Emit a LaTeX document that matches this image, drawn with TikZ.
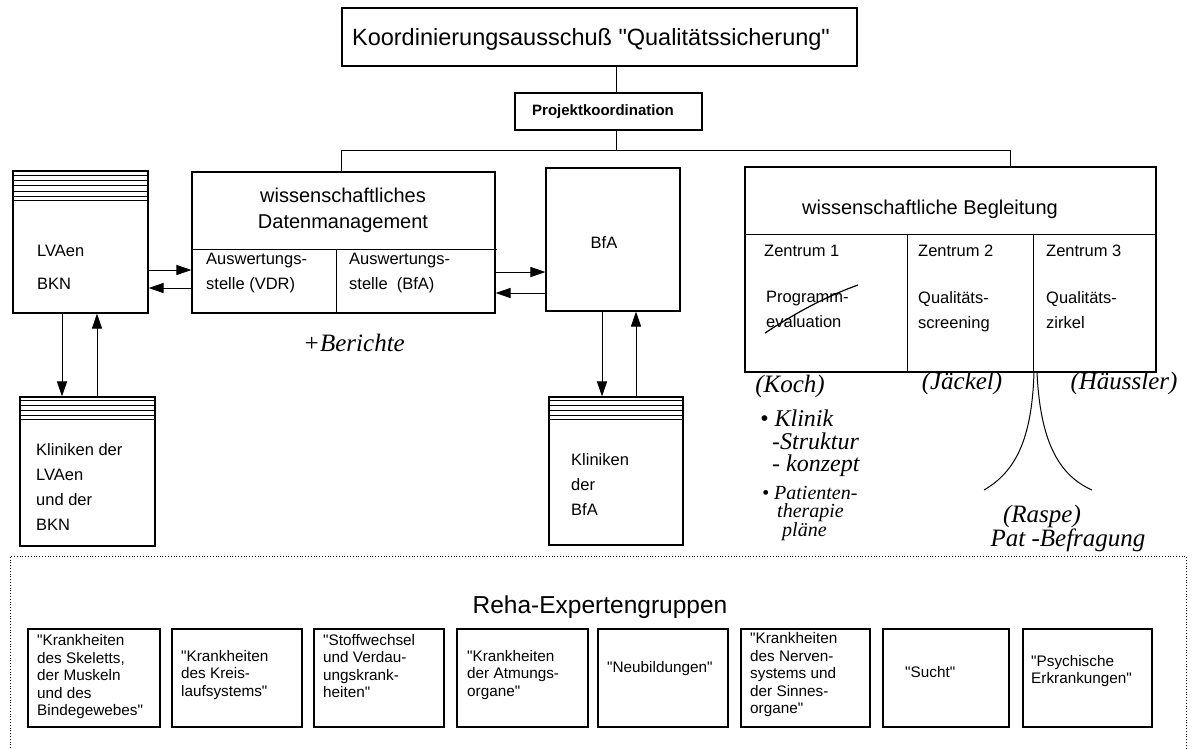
\documentclass[tikz,border=0pt]{standalone}
\usepackage{fontspec}
\setmainfont{Liberation Sans}
\newfontfamily\hand{Liberation Serif}
\usetikzlibrary{arrows.meta,calc,fit}
\newcommand{\qq}{\textquotedbl}
\begin{document}
\begin{tikzpicture}[x=1pt,y=-1pt,
  box/.style={draw, line width=1.1pt, rectangle, inner sep=0pt},
  grp/.style={draw, line width=1.1pt, rectangle, inner sep=0pt},
  txt/.style={inner sep=0pt, align=left, font=\fontsize{16.5}{25}\selectfont},
  gtxt/.style={inner sep=0pt, align=left, anchor=west, font=\fontsize{15.3}{17.5}\selectfont},
  big/.style={inner sep=0pt, font=\fontsize{23.5}{28}\selectfont},
  mid/.style={inner sep=0pt, align=center, font=\fontsize{20}{26}\selectfont},
  hw/.style={inner sep=0pt, align=left, font=\hand\itshape\fontsize{25}{22}\selectfont},
  conn/.style={line width=1pt},
  arr/.style={line width=1pt, -{Triangle[length=15pt,width=10pt]}},
  stripe/.style={line width=0.8pt}
]
\fill[white] (0,0) rectangle (1204,748);
\useasboundingbox (0,0) rectangle (1204,748);

% top
\node[box, fit={(342,8) (857,66)}] (top) {};
\node[big] (toptxt) at (591,39) {Koordinierungsausschuß \qq Qualitätssicherung\qq};
\node[box, fit={(515,93) (702,130)}] (proj) {};
\node[txt, font=\bfseries\fontsize{15}{18}\selectfont] (projtxt) at (603,112) {Projektkoordination};

% data management
\node[box, fit={(192,172) (495,313)}] (dm) {};
\coordinate (dmdivL) at (192,249);
\coordinate (dmdivR) at (497,249);
\draw[conn] (dmdivL) -- (dmdivR);
\draw[conn] (336,249) coordinate (dmv1) -- (dmv1 |- dm.south);
\node[mid] (dmtxt) at (343,210) {wissenschaftliches\\Datenmanagement};
\node[txt, anchor=north west] (aus1) at (206,253) {Auswertungs-\\stelle (VDR)};
\node[txt, anchor=north west] (aus2) at (349,253) {Auswertungs-\\stelle \ (BfA)};

% LVAen
\node[box, fit={(13,171) (148,313)}] (lva) {};
\foreach \d in {5,10,15,21,26,30} \draw[stripe] ([yshift=-\d pt]lva.north west) -- ([yshift=-\d pt]lva.north east);
\node[txt, anchor=west] (lvatxt) at (37,267) {LVAen\\[8pt]BKN};

% BfA
\node[box, fit={(546,168) (680,311)}] (bfa) {};
\node[txt] (bfatxt) at (604,243) {BfA};

% Kliniken LVAen
\node[box, fit={(20,397) (155,546)}] (klva) {};
\foreach \d in {4,9,14,19,23} \draw[stripe] ([yshift=-\d pt]klva.north west) -- ([yshift=-\d pt]klva.north east);
\node[txt, anchor=north west] (klvatxt) at (36,443) {Kliniken der\\LVAen\\und der\\BKN};

% Kliniken BfA
\node[box, fit={(549,397) (683,545)}] (kbfa) {};
\foreach \d in {4,9,14,19,23} \draw[stripe] ([yshift=-\d pt]kbfa.north west) -- ([yshift=-\d pt]kbfa.north east);
\node[txt, anchor=north west] (kbfatxt) at (571,453) {Kliniken\\der\\BfA};

% wissenschaftliche Begleitung
\node[box, fit={(745,167) (1156,372)}] (wb) {};
\draw[conn] (745,234) coordinate (wbdL) -- (wbdL -| wb.east);
\draw[conn] (907,234) coordinate (wbv1) -- (wbv1 |- wb.south);
\draw[conn] (1033,234) coordinate (wbv2) -- (wbv2 |- wb.south);
\node[mid] (wbtxt) at (930,209) {wissenschaftliche Begleitung};
\node[txt, anchor=north west] (z1) at (764,245) {Zentrum 1};
\node[txt, anchor=north west] (z2) at (918,245) {Zentrum 2};
\node[txt, anchor=north west] (z3) at (1046,245) {Zentrum 3};
\node[txt, anchor=north west] (z1b) at (766,291) {Programm-\\evaluation};
\node[txt, anchor=north west] (z2b) at (918,291) {Qualitäts-\\screening};
\node[txt, anchor=north west] (z3b) at (1046,291) {Qualitäts-\\zirkel};
\draw[line width=1.2pt] (765,333) .. controls (800,310) and (830,295) .. (858,285);

% tree connectors
\coordinate (busL) at (341,150);
\coordinate (busR) at (1010,150);
\draw[conn] ([xshift=7.5pt]proj.north) -- ([xshift=7.5pt]proj.north |- top.south);
\draw[conn] ([xshift=7.5pt]proj.south) -- ([xshift=7.5pt]proj.south |- busL);
\draw[conn] (dm.north -| busL) -- (busL) -- (busR) -- (wb.north -| busR);

% arrows
\draw[arr] (lva.east |- 0,270) -- (dm.west |- 0,270);
\draw[arr] (dm.west |- 0,288) -- (lva.east |- 0,288);
\draw[arr] (dm.east |- 0,272) -- (bfa.west |- 0,272);
\draw[arr] (bfa.west |- 0,293) -- (dm.east |- 0,293);
\draw[arr] (lva.south -| 62,0) -- (klva.north -| 62,0);
\draw[arr] (klva.north -| 97,0) -- (lva.south -| 97,0);
\draw[arr] (bfa.south -| 602,0) -- (kbfa.north -| 602,0);
\draw[arr] (kbfa.north -| 636,0) -- (bfa.south -| 636,0);

% handwritten notes
\node[hw] (berichte) at (354,343) {+Berichte};
\node[hw] (koch) at (790,386) {(Koch)};
\node[hw] (jaeckel) at (962,383) {(Jäckel)};
\node[hw] (haeussler) at (1124,383) {(Häussler)};
\node[hw, anchor=north west, font=\hand\itshape\fontsize{24}{22.5}\selectfont] (klinik) at (760,410) {• Klinik\\\ \ -Struktur\\\ \ - konzept};
\node[hw, anchor=north west, font=\hand\itshape\fontsize{20}{18}\selectfont] (pat) at (762,486) {• Patienten-\\\ \ \ therapie\\\ \ \ \ pläne};
\node[hw] (raspe) at (1042,516) {(Raspe)};
\node[hw] (patbef) at (1068,540) {Pat -Befragung};
\draw[line width=1pt] (1034,372) .. controls (1032,440) and (1015,472) .. (984,490);
\draw[line width=1pt] (1037,372) .. controls (1040,440) and (1058,475) .. (1092,490);

% Reha-Expertengruppen
\draw[line width=0.8pt, dotted] (10,748) -- (10,556) coordinate (rehaTL) -- (1186,556) coordinate (rehaTR) -- (1186,748);
\node[big, font=\fontsize{24.5}{28}\selectfont] (rehatxt) at (600,607) {Reha-Expertengruppen};

\node[grp, fit={(28,629) (160,727)}] (g1) {};
\node[grp, fit={(172,629) (302,727)}] (g2) {};
\node[grp, fit={(314,629) (444,727)}] (g3) {};
\node[grp, fit={(457,629) (588,727)}] (g4) {};
\node[grp, fit={(598,629) (728,727)}] (g5) {};
\node[grp, fit={(741,629) (870,727)}] (g6) {};
\node[grp, fit={(883,629) (1009,727)}] (g7) {};
\node[grp, fit={(1023,629) (1152,727)}] (g8) {};
\node[gtxt] (g1t) at (37,677) {\qq Krankheiten\\des Skeletts,\\der Muskeln\\und des\\Bindegewebes\qq};
\node[gtxt] (g2t) at (181,675) {\qq Krankheiten\\des Kreis-\\laufsystems\qq};
\node[gtxt] (g3t) at (323,666) {\qq Stoffwechsel\\und Verdau-\\ungskrank-\\heiten\qq};
\node[gtxt] (g4t) at (467,675) {\qq Krankheiten\\der Atmungs-\\organe\qq};
\node[gtxt] (g5t) at (607,669) {\qq Neubildungen\qq};
\node[gtxt] (g6t) at (750,675) {\qq Krankheiten\\des Nerven-\\systems und\\der Sinnes-\\organe\qq};
\node[gtxt] (g7t) at (905,672) {\qq Sucht\qq};
\node[gtxt] (g8t) at (1031,671) {\qq Psychische\\Erkrankungen\qq};
\end{tikzpicture}
\end{document}
